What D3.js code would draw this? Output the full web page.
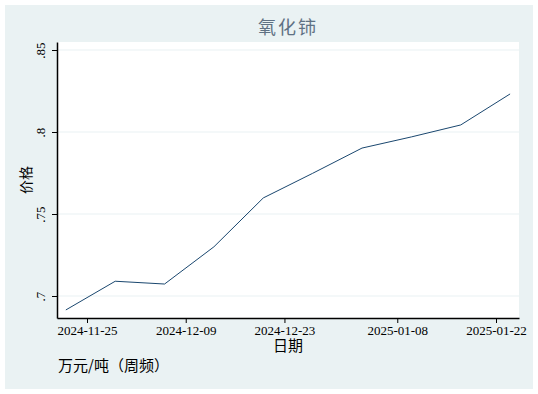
<!DOCTYPE html>
<html>
<head>
<meta charset="utf-8">
<script src="https://cdn.jsdelivr.net/npm/d3@7"></script>
<style>
  body { margin: 0; background: #fff; }
</style>
</head>
<body>
<div id="chart"></div>
<script>
const width = 538
const height = 394

// weekly price, 万元/吨
const dates = ['2024-11-22', '2024-11-29', '2024-12-06', '2024-12-13', '2024-12-20',
  '2024-12-27', '2025-01-03', '2025-01-10', '2025-01-17', '2025-01-24']
const prices = [0.6915, 0.709, 0.7073, 0.73, 0.7598, 0.7748, 0.7902, 0.797, 0.8043, 0.8232]
const xTicks = ['2024-11-25', '2024-12-09', '2024-12-23', '2025-01-08', '2025-01-22']
const yTicks = [0.7, 0.75, 0.8, 0.85]
const yTickLabels = ['.7', '.75', '.8', '.85']

const parse = d3.utcParse('%Y-%m-%d')
const data = dates.map((d, i) => ({ date: parse(d), price: prices[i] }))

const plot = { left: 57, right: 519, top: 42, bottom: 318 }
const bg = '#eaf2f3'
const serif = '"Liberation Serif", "DejaVu Serif", serif'
const cjk = '"Noto Sans CJK SC", sans-serif'

let xScale = d3.scaleUtc()
    .domain([parse(xTicks[0]), parse(xTicks[4])])
    .range([87, 496])
xScale.domain([xScale.invert(plot.left), xScale.invert(plot.right)])
    .range([plot.left, plot.right])

let yScale = d3.scaleLinear()
    .domain([0.7, 0.85])
    .range([296, 50])
yScale.domain([yScale.invert(plot.bottom), yScale.invert(plot.top)])
    .range([plot.bottom, plot.top])

const svg = d3.select('#chart').append('svg')
    .attr('width', width)
    .attr('height', height)

svg.append('rect')
    .attr('x', 5).attr('y', 5)
    .attr('width', 528).attr('height', 384)
    .attr('fill', bg)

svg.append('rect')
    .attr('x', plot.left).attr('y', plot.top)
    .attr('width', plot.right - plot.left)
    .attr('height', plot.bottom - plot.top)
    .attr('fill', '#fff')

// gridlines
svg.append('g')
    .selectAll('line')
    .data(yTicks)
    .enter().append('line')
    .attr('x1', plot.left)
    .attr('x2', plot.right)
    .attr('y1', d => yScale(d))
    .attr('y2', d => yScale(d))
    .attr('stroke', bg)
    .attr('stroke-width', 1.2)

// x axis
let xAxis = d3.axisBottom(xScale)
    .tickValues(xTicks.map(parse))
    .tickFormat(d3.utcFormat('%Y-%m-%d'))
    .tickSize(5)
    .tickSizeOuter(0)

const gx = svg.append('g')
    .attr('transform', 'translate(0,' + plot.bottom + ')')
    .call(xAxis)
gx.select('.domain').attr('stroke', '#000').attr('stroke-width', 1.5)
gx.selectAll('.tick line').attr('stroke', '#000')
gx.selectAll('.tick text')
    .attr('y', 8)
    .style('font-family', serif)
    .style('font-size', '13px')
    .attr('fill', '#000')

// y axis
let yAxis = d3.axisLeft(yScale)
    .tickValues(yTicks)
    .tickFormat((d, i) => yTickLabels[i])
    .tickSize(5)
    .tickSizeOuter(0)

const gy = svg.append('g')
    .attr('transform', 'translate(' + plot.left + ',0)')
    .call(yAxis)
gy.select('.domain').attr('stroke', '#000').attr('stroke-width', 1.5)
gy.selectAll('.tick line').attr('stroke', '#000')
gy.selectAll('.tick text')
    .attr('x', null).attr('dy', null)
    .attr('transform', 'translate(-12,0) rotate(-90)')
    .style('text-anchor', 'middle')
    .style('font-family', serif)
    .style('font-size', '13px')
    .attr('fill', '#000')

// price line
let lineGenerator = d3.line()
    .x(d => xScale(d.date))
    .y(d => yScale(d.price))

svg.append('path')
    .attr('d', lineGenerator(data))
    .attr('fill', 'none')
    .attr('stroke', '#1a476f')
    .attr('stroke-width', 1)

// titles
svg.append('text')
    .attr('x', (plot.left + plot.right) / 2)
    .attr('y', 34)
    .style('text-anchor', 'middle')
    .style('font-family', cjk)
    .style('font-size', '18px')
    .style('letter-spacing', '2px')
    .attr('fill', '#5f7183')
    .text('氧化铈')

svg.append('text')
    .attr('x', (plot.left + plot.right) / 2)
    .attr('y', 351)
    .style('text-anchor', 'middle')
    .style('font-family', cjk)
    .style('font-size', '15px')
    .attr('fill', '#000')
    .text('日期')

svg.append('text')
    .attr('transform', 'translate(31,180) rotate(-90)')
    .style('text-anchor', 'middle')
    .style('font-family', cjk)
    .style('font-size', '14px')
    .attr('fill', '#000')
    .text('价格')

svg.append('text')
    .attr('x', 58)
    .attr('y', 371)
    .style('font-family', cjk)
    .style('font-size', '15px')
    .attr('fill', '#000')
    .text('万元/吨（周频）')
</script>
</body>
</html>
